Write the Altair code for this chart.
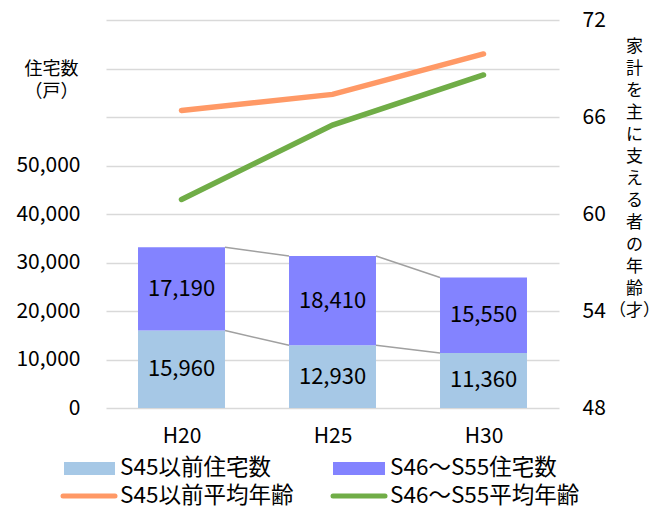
import altair as alt
import pandas as pd

years = ["H20", "H25", "H30"]
s45_houses = [15960, 12930, 11360]
s46_houses = [17190, 18410, 15550]
s45_age = [66.4, 67.4, 69.9]
s46_age = [60.9, 65.5, 68.6]

FONT = "Noto Sans CJK JP"
C_S45 = "#A6C8E6"
C_S46 = "#8383FF"
C_ORANGE = "#FF9966"
C_GREEN = "#70AD47"
HALF = 0.288

W, H = 453, 388

rows = []
for i, y in enumerate(years):
    rows.append(dict(i=i, year=y, xa=i - HALF, xb=i + HALF,
                     s45=s45_houses[i], s46=s46_houses[i],
                     top1=s45_houses[i], top2=s45_houses[i] + s46_houses[i],
                     mid1=s45_houses[i] / 2, mid2=s45_houses[i] + s46_houses[i] / 2,
                     age45=s45_age[i], age46=s46_age[i]))
df = pd.DataFrame(rows)

conn = []
for i in range(len(years) - 1):
    for key in ("top1", "top2"):
        conn.append(dict(xa=i + HALF, xb=i + 1 - HALF,
                         ya=df.loc[i, key], yb=df.loc[i + 1, key]))
conn_df = pd.DataFrame(conn)

label_expr = "datum.value == 0 ? 'H20' : datum.value == 1 ? 'H25' : 'H30'"
xscale = alt.Scale(domain=[-0.5, 2.5], nice=False, zero=False)
xaxis = alt.Axis(values=[0, 1, 2], labelExpr=label_expr, grid=False, ticks=False,
                 domain=False, title=None, labelFont=FONT, labelFontSize=21,
                 labelColor="#000", labelPadding=17)
yscale = alt.Scale(domain=[0, 80000], nice=False)
yaxis = alt.Axis(values=list(range(0, 80001, 10000)),
                 labelExpr="datum.value <= 50000 ? format(datum.value, ',') : ''",
                 grid=True, gridColor="#D9D9D9", gridWidth=1.5, ticks=False, domain=False,
                 labelFont=FONT, labelFontSize=21, labelColor="#000", labelPadding=26,
                 title=["住宅数", "（戸）"], titleAngle=0, titleX=-55, titleY=40,
                 titleAlign="center", titleBaseline="top", titleFont=FONT,
                 titleFontSize=18, titleFontWeight="normal", titleColor="#000",
                 titleLineHeight=22)

base = alt.Chart(df)

bar1 = base.mark_bar(color=C_S45).encode(
    x=alt.X("xa:Q", scale=xscale, axis=xaxis), x2="xb:Q",
    y=alt.Y("top1:Q", scale=yscale, axis=yaxis), y2=alt.Y2(datum=0))
bar2 = base.mark_bar(color=C_S46).encode(
    x=alt.X("xa:Q", scale=xscale), x2="xb:Q",
    y=alt.Y("top2:Q", scale=yscale), y2="top1:Q")
conn_layer = alt.Chart(conn_df).mark_rule(color="#A0A0A0", strokeWidth=1.5).encode(
    x=alt.X("xa:Q", scale=xscale), x2="xb:Q",
    y=alt.Y("ya:Q", scale=yscale), y2="yb:Q")
txt1 = base.mark_text(font=FONT, fontSize=22, color="#000").encode(
    x=alt.X("i:Q", scale=xscale), y=alt.Y("mid1:Q", scale=yscale),
    text=alt.Text("s45:Q", format=","))
txt2 = base.mark_text(font=FONT, fontSize=22, color="#000").encode(
    x=alt.X("i:Q", scale=xscale), y=alt.Y("mid2:Q", scale=yscale),
    text=alt.Text("s46:Q", format=","))

left = alt.layer(bar1, bar2, conn_layer, txt1, txt2)

rscale = alt.Scale(domain=[48, 72], nice=False, zero=False)
rtitle = list("家計を主に支える者の年齢") + ["（才）"]
raxis = alt.Axis(orient="right", values=[48, 54, 60, 66, 72], grid=False, ticks=False,
                 domain=False, labelFont=FONT, labelFontSize=21, labelColor="#000",
                 labelPadding=23, title=rtitle, titleAngle=0, titleX=75, titleY=18,
                 titleAlign="center", titleBaseline="top", titleFont=FONT,
                 titleFontSize=17, titleFontWeight="normal", titleColor="#000",
                 titleLineHeight=22)
line1 = base.mark_line(color=C_ORANGE, strokeWidth=5.5, strokeCap="round").encode(
    x=alt.X("i:Q", scale=xscale), y=alt.Y("age45:Q", scale=rscale, axis=raxis))
line2 = base.mark_line(color=C_GREEN, strokeWidth=5.5, strokeCap="round").encode(
    x=alt.X("i:Q", scale=xscale), y=alt.Y("age46:Q", scale=rscale))
right = alt.layer(line1, line2)

# manual legend
leg_src = alt.Chart(alt.Data(values=[{"k": 1}]))
def leg_rect(x1, x2, color):
    return leg_src.mark_rect(color=color).encode(
        x=alt.value(x1), x2=alt.value(x2), y=alt.value(442), y2=alt.value(455))
def leg_line(x1, x2, color):
    return leg_src.mark_rule(color=color, strokeWidth=5, strokeCap="round").encode(
        x=alt.value(x1), x2=alt.value(x2), y=alt.value(476))
def leg_text(x, yv, label):
    return leg_src.mark_text(font=FONT, fontSize=22.5, color="#000", align="left",
                             baseline="middle").encode(
        x=alt.value(x), y=alt.value(yv), text=alt.value(label))

legend = alt.layer(
    leg_rect(-42, 9, C_S45), leg_text(14, 448, "S45以前住宅数"),
    leg_rect(227, 279, C_S46), leg_text(284, 448, "S46〜S55住宅数"),
    leg_line(-43, 9, C_ORANGE), leg_text(14, 476, "S45以前平均年齢"),
    leg_line(227, 279, C_GREEN), leg_text(284, 476, "S46〜S55平均年齢"),
)

chart = alt.layer(left, right, legend).resolve_scale(y="independent").properties(
    width=W, height=H,
    autosize=alt.AutoSizeParams(type="none"),
    padding={"left": 98, "top": 12, "right": 90, "bottom": 100},
).configure_view(stroke=None)

chart.save("out.html", embed_options={"renderer": "svg", "actions": False})
